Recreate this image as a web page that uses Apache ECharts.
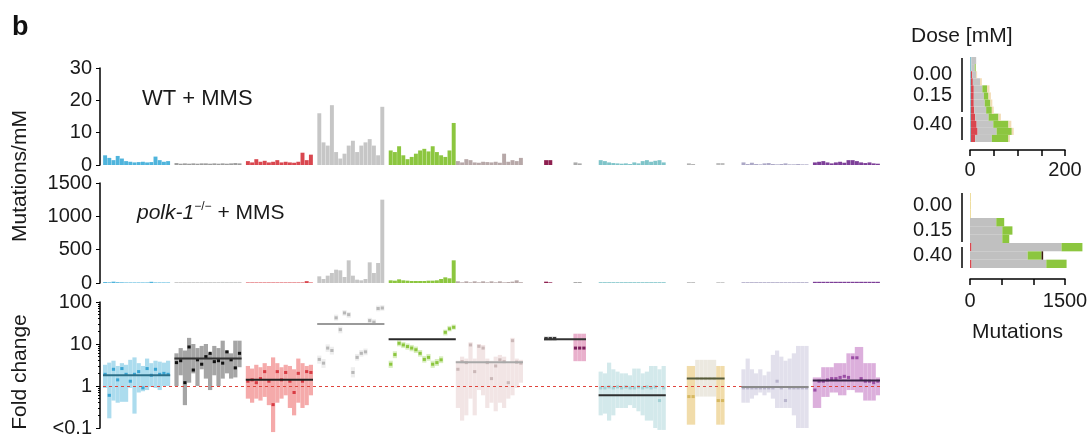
<!DOCTYPE html>
<html>
<head>
<meta charset="utf-8">
<script src="https://cdn.jsdelivr.net/npm/echarts@6/dist/echarts.min.js"></script>
<style>
  html, body { margin: 0; padding: 0; background: #fff; }
  #chart { width: 1092px; height: 438px; }
</style>
</head>
<body>
<div id="chart"></div>
<script>
// ---- x layout shared by the three left panels: 185 slots, groups start at these slots
var slotCount = 185;
var groupStart = [0, 17, 34, 51, 68, 84, 105, 112, 118, 139, 146, 152, 169];
var groupColor = ['#4fb4dc', '#9d9d9d', '#d9474f', '#c6c6c6', '#8cc63f', '#b7a8a8',
                  '#8e2050', '#ababab', '#7fc4c9', '#b3b3b3', '#bdbdbd', '#aca8c6', '#7d3f98'];

// ---- WT + MMS, mutations/mM
var wtBlue      = [3, 2.2, 1.5, 2.8, 2.0, 1.2, 1.0, 0.8, 0.9, 1.0, 0.8, 0.9, 2.6, 1.5, 1.0, 1.2];
var wtDarkGray  = [0.6, 0.4, 0.5, 0.4, 0.5, 0.4, 0.5, 0.5, 0.4, 0.5, 0.4, 0.5, 0.4, 0.5, 0.6, 0.5];
var wtRed       = [1.2, 0.8, 1.8, 1.0, 1.3, 0.8, 1.0, 1.5, 0.8, 1.0, 0.8, 0.7, 1.0, 3.8, 1.5, 3.2];
var wtGray      = [16, 7, 6, 18.5, 4, 2, 3.5, 6, 7.5, 4, 6, 7, 8, 6, 3, 18];
var wtGreen     = [4.5, 4.0, 5.8, 3.0, 1.8, 2.5, 3.5, 4.5, 5.0, 4.2, 5.8, 4.0, 3.0, 2.5, 4.5, 13];
var wtRose      = [1.2, 0.8, 1.8, 1.5, 0.8, 0.7, 1.0, 0.9, 0.8, 1.0, 0.7, 3.5, 1.0, 1.5, 1.2, 2.2];
var wtMaroon    = [1.5, 1.5];
var wtSmallGray = [0.8, 0.5];
var wtTeal      = [1.5, 1.2, 0.8, 0.6, 0.5, 0.4, 0.5, 0.3, 0.8, 0.5, 1.2, 1.5, 1.0, 1.3, 1.5, 0.8];
var wtSmall2    = [0.5, 0.3];
var wtYellow    = [0.6, 0.6];
var wtLavender  = [0.8, 0.3, 0.7, 0.3, 0.2, 0.5, 0.6, 0.3, 0.2, 0.3, 0.5, 0.2, 0.2, 0.3, 0.2, 0.2];
var wtPurple    = [0.8, 1.0, 1.2, 0.8, 0.5, 0.8, 1.0, 0.7, 1.5, 1.5, 1.2, 0.8, 0.6, 0.8, 0.5, 0.4];

// ---- polk-1 + MMS, mutations/mM
var polkBlue      = [14, 10, 20, 12, 10, 8, 8, 8, 8, 8, 8, 18, 8, 8, 8, 8];
var polkDarkGray  = [8, 8, 8, 8, 8, 8, 8, 8, 8, 8, 8, 8, 8, 8, 8, 8];
var polkRed       = [8, 8, 8, 8, 8, 8, 8, 8, 8, 8, 8, 8, 8, 8, 28, 8];
var polkGray      = [100, 60, 110, 150, 200, 190, 90, 340, 110, 50, 40, 60, 310, 150, 300, 1250];
var polkGreen     = [40, 35, 55, 40, 35, 30, 30, 30, 30, 35, 35, 40, 60, 85, 70, 340];
var polkRose      = [25, 10, 25, 10, 25, 10, 25, 10, 25, 10, 25, 10, 15, 20, 40, 12];
var polkMaroon    = [20, 10];
var polkSmallGray = [15, 15];
var polkTeal      = [12, 12, 12, 12, 12, 12, 12, 12, 12, 12, 12, 12, 12, 12, 12, 12];
var polkSmall2    = [12, 12];
var polkYellow    = [12, 12];
var polkLavender  = [12, 12, 12, 12, 12, 12, 12, 12, 12, 12, 12, 12, 12, 12, 12, 12];
var polkPurple    = [18, 18, 18, 18, 18, 18, 18, 18, 18, 18, 18, 18, 18, 18, 18, 18];

// ---- fold change (low, high, estimate per context)
var fcBlueLow  = [0.9, 0.17, 0.45, 0.4, 0.42, 0.42, 0.9, 0.22, 0.7, 0.75, 0.8, 0.95, 0.9, 0.8, 1.0, 1.0];
var fcBlueHigh = [3.2, 3.6, 4.0, 3.0, 3.5, 3.2, 4.2, 4.8, 3.5, 3.0, 4.5, 3.5, 4.0, 3.8, 3.6, 4.0];
var fcBlueEst  = [1.9, 0.6, 2.5, 1.4, 2.6, 1.9, 1.3, 1.9, 2.2, 0.9, 2.6, 1.8, 2.5, 1.9, 2.0, 1.9];

var fcDarkLow  = [1.0, 1.8, 0.35, 1.2, 2.0, 1.0, 2.5, 1.5, 0.8, 1.8, 1.0, 1.5, 2.0, 1.5, 1.6, 2.8];
var fcDarkHigh = [6, 8, 7, 14, 10, 8, 9, 10, 6, 9, 8, 12, 7, 6, 12, 12];
var fcDarkEst  = [3.6, 4.0, 1.2, 8.5, 2.4, 4.2, 3.3, 5.0, 6.0, 3.8, 4.0, 3.5, 6.5, 4.2, 2.7, 6.0];

var fcRedLow  = [0.5, 0.4, 0.5, 0.45, 0.55, 0.35, 0.08, 0.4, 0.5, 0.6, 0.3, 0.2, 0.4, 0.3, 0.35, 0.6];
var fcRedHigh = [3.0, 2.6, 3.2, 2.8, 3.5, 3.0, 4.8, 3.5, 2.8, 3.2, 3.0, 2.5, 4.5, 3.5, 3.0, 3.2];
var fcRedEst  = [1.3, 1.4, 1.2, 1.5, 2.2, 1.3, 0.36, 2.2, 1.4, 2.1, 1.3, 0.7, 2.0, 1.3, 2.2, 2.1];

var fcGrayLow  = [3.4, 2.7, 6.5, 5.6, 36, 18, 47, 42, 1.6, 4.0, 5.0, 5.4, 31, 28, 60, 62];
var fcGrayHigh = [5.3, 4.4, 9.8, 8.6, 50, 26, 64, 58, 2.8, 5.8, 7.2, 7.8, 42, 39, 82, 84];
var fcGrayEst  = [4.3, 3.5, 8, 7, 42, 22, 55, 50, 2.1, 4.8, 6.0, 6.5, 36, 33, 70, 72];

var fcGreenLow  = [2.7, 4.6, 8.8, 8.0, 7.3, 6.7, 6.1, 5.0, 3.6, 4.0, 2.7, 3.0, 3.5, 16, 20, 22];
var fcGreenHigh = [4.0, 6.7, 12.2, 11.2, 10.3, 9.5, 8.7, 7.2, 5.2, 5.8, 4.0, 4.4, 5.1, 22, 27, 29];
var fcGreenEst  = [3.3, 5.6, 10.4, 9.5, 8.7, 8.0, 7.3, 6.0, 4.3, 4.8, 3.3, 3.6, 4.2, 19, 23, 25];

var fcRoseLow  = [0.3, 0.15, 0.2, 0.5, 0.2, 0.8, 0.6, 0.3, 0.4, 0.25, 0.4, 0.3, 0.5, 0.6, 0.9, 1.2];
var fcRoseHigh = [4.0, 5.0, 4.5, 11, 4.5, 10, 9.5, 4.5, 4.0, 5.0, 5.5, 5.0, 3.5, 14, 4.5, 4.2];
var fcRoseEst  = [2.5, 3.8, 3.6, 9.5, 2.2, 8.8, 8.0, 3.6, 1.5, 3.0, 4.2, 3.8, 1.2, 12.0, 3.7, 3.5];

var fcMaroonLow  = [12, 12, 12];
var fcMaroonHigh = [15, 15, 15];
var fcMaroonEst  = [13.5, 13.5, 13.5];

var fcPinkLow  = [3.9, 3.9, 3.9];
var fcPinkHigh = [17.6, 17.6, 17.6];
var fcPinkEst  = [8, 8, 8];

var fcTealLow  = [0.2, 0.22, 0.15, 0.2, 0.3, 0.3, 0.3, 0.35, 0.3, 0.25, 0.2, 0.15, 0.15, 0.1, 0.09, 0.09];
var fcTealHigh = [2.2, 2.0, 3.6, 2.5, 2.2, 2.0, 2.0, 1.8, 2.6, 2.6, 2.0, 2.2, 3.0, 3.0, 2.5, 3.0];
var fcTealEst  = [0.9, 0.9, 0.95, 0.9, 0.95, 0.9, 0.95, 0.9, 0.9, 0.95, 0.9, 0.95, 0.9, 0.95, 0.45, 0.9];

var fcYellowALow = [0.12, 0.12], fcYellowAHigh = [3.0, 3.0], fcYellowAEst = [0.56, 0.56];
var fcPaleLow  = [0.56, 0.56, 0.56, 0.56, 0.56];
var fcPaleHigh = [4.2, 4.2, 4.2, 4.2, 4.2];
var fcPaleEst  = [1.5, 1.5, 1.5, 1.5, 1.5];
var fcYellowBLow = [0.12, 0.12], fcYellowBHigh = [3.0, 3.0], fcYellowBEst = [0.45, 0.45];

var fcLavLow  = [0.4, 0.4, 0.5, 0.6, 0.7, 0.6, 0.7, 0.5, 0.3, 0.3, 0.3, 0.3, 0.2, 0.1, 0.1, 0.1];
var fcLavHigh = [2.5, 4.5, 2.5, 2.0, 2.5, 1.8, 2.2, 5.5, 7.0, 5.0, 4.0, 4.5, 6.0, 9.0, 9.0, 9.0];
var fcLavEst  = [0.9, 0.9, 0.9, 0.9, 0.9, 0.9, 0.9, 0.9, 1.3, 0.9, 0.45, 0.9, 0.9, 0.9, 0.9, 0.9];

var fcPurpleLow  = [0.3, 0.3, 0.55, 0.55, 0.7, 0.7, 0.6, 0.6, 0.8, 0.8, 0.7, 0.7, 0.45, 0.45, 0.45, 0.6];
var fcPurpleHigh = [1.6, 1.6, 2.8, 2.8, 2.8, 3.5, 3.5, 3.5, 6.0, 6.0, 8.5, 8.5, 3.5, 3.5, 3.5, 1.6];
var fcPurpleEst  = [0.8, 1.3, 1.3, 1.4, 1.5, 1.5, 1.6, 1.7, 1.6, 4.7, 4.7, 1.5, 1.3, 1.3, 1.2, 1.3];

// group medians: first slot, last slot, value
var medianStart = [0, 17, 34, 51, 68, 84, 105, 118, 139, 152, 169];
var medianEnd   = [15, 32, 49, 66, 83, 99, 114, 133, 147, 167, 184];
var medianValue = [1.8, 4.5, 1.4, 30, 13, 3.7, 13, 0.6, 1.5, 0.95, 1.35];
var medianColor = ['#2c6f88', '#333', '#222', '#9a9a9a', '#2a2a2a', '#a9a9a9', '#333', '#2f2f2f', '#555a3a', '#8a8a8a', '#3a2448'];

// ---- right panels: mutations per dose replicate (stacked)
var doseRowsTop = ['r1', 'r2', 'r3', 'r4', 'r5', 'r6', 'r7', 'r8', 'r9', 'r10', 'r11', 'r12'];
var doseLabelsTop = ['', '', '0.00', '', '', '0.15', '', '', '', '0.40', '', ''];
var rtBlue  = [3, 3, 2, 2, 2, 2, 2, 2, 2, 2, 2, 2];
var rtRed   = [0, 0, 3, 4, 6, 6, 6, 7, 9, 12, 14, 9];
var rtGray  = [10, 7, 8, 15, 18, 21, 23, 25, 28, 35, 40, 35];
var rtGreen = [0, 2, 0, 0, 10, 10, 12, 12, 21, 32, 32, 35];
var rtTan   = [0, 0, 2, 4, 5, 5, 4, 4, 5, 6, 4, 3];

var doseRowsBottom = ['r1', 'r2', 'r3', 'r4', 'r5', 'r6', 'r7', 'r8', 'r9'];
var doseLabelsBottom = ['', '0.00', '', '', '0.15', '', '', '0.40', ''];
var rbTan   = [15, 15, 15, 0, 0, 0, 0, 0, 0];
var rbRed   = [0, 0, 0, 0, 0, 0, 25, 0, 25];
var rbGray  = [0, 0, 0, 415, 510, 510, 1420, 910, 1180];
var rbGreen = [0, 0, 0, 125, 160, 110, 330, 220, 320];
var rbDark  = [0, 0, 0, 0, 0, 0, 0, 25, 0];

var FONT = 'Liberation Sans';
var TXT = '#1a1a1a';

var slots = [];
for (var i = 0; i < slotCount; i++) slots.push(String(i));

function barData(arrays) {
  var out = [];
  for (var i = 0; i < slotCount; i++) out.push(null);
  arrays.forEach(function (vals, g) {
    vals.forEach(function (v, k) {
      out[groupStart[g] + k] = { value: v, itemStyle: { color: groupColor[g] } };
    });
  });
  return out;
}

var wtData = barData([wtBlue, wtDarkGray, wtRed, wtGray, wtGreen, wtRose, wtMaroon,
  wtSmallGray, wtTeal, wtSmall2, wtYellow, wtLavender, wtPurple]);
var polkData = barData([polkBlue, polkDarkGray, polkRed, polkGray, polkGreen, polkRose, polkMaroon,
  polkSmallGray, polkTeal, polkSmall2, polkYellow, polkLavender, polkPurple]);

var foldGroups = [
  { start: 0,   low: fcBlueLow,    high: fcBlueHigh,    est: fcBlueEst,    box: '#acdcee', mark: '#3aa5d3' },
  { start: 17,  low: fcDarkLow,    high: fcDarkHigh,    est: fcDarkEst,    box: '#a5a5a5', mark: '#111111' },
  { start: 34,  low: fcRedLow,     high: fcRedHigh,     est: fcRedEst,     box: '#f5aaaa', mark: '#d83c44' },
  { start: 51,  low: fcGrayLow,    high: fcGrayHigh,    est: fcGrayEst,    box: '#eeeeee', mark: '#b8b8b8' },
  { start: 68,  low: fcGreenLow,   high: fcGreenHigh,   est: fcGreenEst,   box: '#d9eebf', mark: '#8cc63f' },
  { start: 84,  low: fcRoseLow,    high: fcRoseHigh,    est: fcRoseEst,    box: '#f2e5e5', mark: '#cbb8b8' },
  { start: 105, low: fcMaroonLow,  high: fcMaroonHigh,  est: fcMaroonEst,  box: '#bdbdbd', mark: '#3a3a3a' },
  { start: 112, low: fcPinkLow,    high: fcPinkHigh,    est: fcPinkEst,    box: '#e9b0cc', mark: '#7a1f5c' },
  { start: 118, low: fcTealLow,    high: fcTealHigh,    est: fcTealEst,    box: '#d3e9eb', mark: '#a3d0d4' },
  { start: 139, low: fcYellowALow, high: fcYellowAHigh, est: fcYellowAEst, box: '#f1dcaa', mark: '#d6b862' },
  { start: 141, low: fcPaleLow,    high: fcPaleHigh,    est: fcPaleEst,    box: '#ece9e0', mark: '#d8d2bf' },
  { start: 146, low: fcYellowBLow, high: fcYellowBHigh, est: fcYellowBEst, box: '#f1dcaa', mark: '#d6b862' },
  { start: 152, low: fcLavLow,     high: fcLavHigh,     est: fcLavEst,     box: '#e2e0ec', mark: '#b9b5cd' },
  { start: 169, low: fcPurpleLow,  high: fcPurpleHigh,  est: fcPurpleEst,  box: '#dcafdc', mark: '#9b4fa5' }
];

var foldSeries = foldGroups.map(function (g) {
  return {
    type: 'custom',
    xAxisIndex: 2,
    yAxisIndex: 2,
    z: 2,
    encode: { x: 0, y: [1, 2, 3] },
    data: g.est.map(function (e, k) { return [g.start + k, g.low[k], g.high[k], e]; }),
    renderItem: function (params, api) {
      var x = api.value(0);
      var w = api.size([1, 1], [x, 1])[0];
      var top = api.coord([x, api.value(2)]);
      var bot = api.coord([x, api.value(1)]);
      var mid = api.coord([x, api.value(3)]);
      return {
        type: 'group',
        children: [
          { type: 'rect', shape: { x: top[0] - w / 2, y: top[1], width: w, height: bot[1] - top[1] },
            style: { fill: g.box } },
          { type: 'rect', shape: { x: mid[0] - w / 2 + 0.5, y: mid[1] - 1.5, width: w - 1, height: 3 },
            style: { fill: g.mark } }
        ]
      };
    }
  };
});

var medianSeries = {
  type: 'custom',
  xAxisIndex: 2,
  yAxisIndex: 2,
  z: 5,
  encode: { x: [0, 1], y: 2 },
  data: medianValue.map(function (v, k) { return [medianStart[k], medianEnd[k], v, k]; }),
  renderItem: function (params, api) {
    var s = api.value(0), e = api.value(1), v = api.value(2);
    var w = api.size([1, 1], [s, 1])[0];
    var p0 = api.coord([s, v]);
    var p1 = api.coord([e, v]);
    return {
      type: 'line',
      shape: { x1: p0[0] - w / 2, y1: p0[1], x2: p1[0] + w / 2, y2: p1[1] },
      style: { stroke: medianColor[api.value(3)], lineWidth: 2 }
    };
  },
  markLine: {
    silent: true,
    symbol: 'none',
    label: { show: false },
    lineStyle: { color: '#e0443c', type: [3, 3], width: 1.2 },
    data: [{ yAxis: 1 }]
  }
};

var leftY = function (grid, min, max, interval) {
  return {
    gridIndex: grid, type: 'value', min: min, max: max, interval: interval, offset: 3,
    axisLine: { show: true, lineStyle: { color: '#000', width: 1.5 } },
    axisTick: { show: true, length: 4, lineStyle: { color: '#000' } },
    splitLine: { show: false },
    axisLabel: { fontFamily: FONT, fontSize: 20, color: TXT, margin: 8,
      formatter: function (v) { return String(v); } }
  };
};

var hiddenX = function (grid) {
  return { gridIndex: grid, type: 'category', data: slots, show: false };
};

var option = {
  animation: false,
  backgroundColor: '#fff',
  grid: [
    { left: 103, width: 777, top: 68, height: 97 },
    { left: 103, width: 777, top: 183, height: 100 },
    { left: 103, width: 777, top: 302, height: 130 },
    { left: 970, width: 95, top: 57, height: 85 },
    { left: 970, width: 95, top: 193, height: 75 }
  ],
  xAxis: [
    hiddenX(0), hiddenX(1), hiddenX(2),
    {
      gridIndex: 3, type: 'value', min: 0, max: 200, interval: 50, offset: 8,
      axisLine: { show: true, lineStyle: { color: '#000', width: 1.5 } },
      axisTick: { show: true, length: 6, lineStyle: { color: '#000', width: 1.5 } },
      splitLine: { show: false },
      axisLabel: { fontFamily: FONT, fontSize: 20, color: TXT, margin: 10,
        formatter: function (v) { return (v === 0 || v === 200) ? String(v) : ''; } }
    },
    {
      gridIndex: 4, type: 'value', min: 0, max: 1500, interval: 500, offset: 11,
      axisLine: { show: true, lineStyle: { color: '#000', width: 1.5 } },
      axisTick: { show: true, length: 6, lineStyle: { color: '#000', width: 1.5 } },
      splitLine: { show: false },
      axisLabel: { fontFamily: FONT, fontSize: 20, color: TXT, margin: 12,
        formatter: function (v) { return (v === 0 || v === 1500) ? String(v) : ''; } },
      name: 'Mutations', nameLocation: 'middle', nameGap: 43,
      nameTextStyle: { fontFamily: FONT, fontSize: 21, color: TXT }
    }
  ],
  yAxis: [
    leftY(0, 0, 30, 10),
    leftY(1, 0, 1500, 500),
    {
      gridIndex: 2, type: 'log', logBase: 10, min: 0.1, max: 100, offset: 3,
      axisLine: { show: true, lineStyle: { color: '#000', width: 1.5 } },
      axisTick: { show: true, length: 4, lineStyle: { color: '#000' } },
      minorTick: { show: true, splitNumber: 9, length: 2, lineStyle: { color: '#000' } },
      splitLine: { show: false },
      axisLabel: { fontFamily: FONT, fontSize: 20, color: TXT, margin: 8,
        formatter: function (v) { return v < 0.15 ? '<0.1' : String(Math.round(v)); } }
    },
    {
      gridIndex: 3, type: 'category', data: doseRowsTop, inverse: true,
      axisLine: { show: false }, axisTick: { show: false },
      axisLabel: { fontFamily: FONT, fontSize: 20, color: TXT, margin: 18, interval: 0,
        formatter: function (v, idx) { return doseLabelsTop[idx]; } }
    },
    {
      gridIndex: 4, type: 'category', data: doseRowsBottom, inverse: true,
      axisLine: { show: false }, axisTick: { show: false },
      axisLabel: { fontFamily: FONT, fontSize: 20, color: TXT, margin: 18, interval: 0,
        formatter: function (v, idx) { return doseLabelsBottom[idx]; } }
    }
  ],
  graphic: [
    { type: 'text', left: 12, top: 14,
      style: { text: 'b', fontFamily: FONT, fontSize: 27, fontWeight: 'bold', fill: '#111' } },
    { type: 'text', left: 142, top: 88,
      style: { text: 'WT + MMS', fontFamily: FONT, fontSize: 22, fill: TXT } },
    { type: 'text', left: 137, top: 201,
      style: { text: '{i|polk-1}{s|−/−}{n| + MMS}', fontFamily: FONT, fontSize: 21, fill: TXT,
        rich: {
          i: { fontFamily: FONT, fontSize: 21, fontStyle: 'italic', fill: TXT },
          s: { fontFamily: FONT, fontSize: 12, fill: TXT, padding: [0, 0, 12, 0] },
          n: { fontFamily: FONT, fontSize: 21, fill: TXT }
        } } },
    { type: 'text', x: 20, y: 176, rotation: Math.PI / 2,
      style: { text: 'Mutations/mM', fontFamily: FONT, fontSize: 21, fill: TXT, align: 'center', verticalAlign: 'middle' } },
    { type: 'text', x: 20, y: 372, rotation: Math.PI / 2,
      style: { text: 'Fold change', fontFamily: FONT, fontSize: 21, fill: TXT, align: 'center', verticalAlign: 'middle' } },
    { type: 'text', left: 911, top: 26,
      style: { text: 'Dose [mM]', fontFamily: FONT, fontSize: 21, fill: TXT } },
    // broken dose axes
    { type: 'line', shape: { x1: 962, y1: 58, x2: 962, y2: 112 }, style: { stroke: '#000', lineWidth: 1.5 } },
    { type: 'line', shape: { x1: 962, y1: 117, x2: 962, y2: 140 }, style: { stroke: '#000', lineWidth: 1.5 } },
    { type: 'line', shape: { x1: 962, y1: 193, x2: 962, y2: 242 }, style: { stroke: '#000', lineWidth: 1.5 } },
    { type: 'line', shape: { x1: 962, y1: 247, x2: 962, y2: 268 }, style: { stroke: '#000', lineWidth: 1.5 } }
  ],
  series: [
    { type: 'bar', xAxisIndex: 0, yAxisIndex: 0, data: wtData, barCategoryGap: '6%' },
    { type: 'bar', xAxisIndex: 1, yAxisIndex: 1, data: polkData, barCategoryGap: '6%' }
  ]
    .concat(foldSeries)
    .concat([medianSeries])
    .concat([
      { name: 'blue', data: rtBlue, color: '#8cc4cf' },
      { name: 'red', data: rtRed, color: '#d9474f' },
      { name: 'gray', data: rtGray, color: '#c4c4c4' },
      { name: 'green', data: rtGreen, color: '#8cc63f' },
      { name: 'tan', data: rtTan, color: '#f3dcb5' }
    ].map(function (s) {
      return { type: 'bar', xAxisIndex: 3, yAxisIndex: 3, stack: 'top', barWidth: '100%',
        name: s.name, data: s.data, itemStyle: { color: s.color }, clip: false };
    }))
    .concat([
      { name: 'tan', data: rbTan, color: '#eedc9a' },
      { name: 'red', data: rbRed, color: '#d9474f' },
      { name: 'gray', data: rbGray, color: '#c0c0c0' },
      { name: 'green', data: rbGreen, color: '#8cc63f' },
      { name: 'dark', data: rbDark, color: '#3a1a10' }
    ].map(function (s) {
      return { type: 'bar', xAxisIndex: 4, yAxisIndex: 4, stack: 'bottom', barWidth: '100%',
        name: s.name, data: s.data, itemStyle: { color: s.color }, clip: false };
    }))
};

var chart = echarts.init(document.getElementById('chart'));
chart.setOption(option);
</script>
</body>
</html>
